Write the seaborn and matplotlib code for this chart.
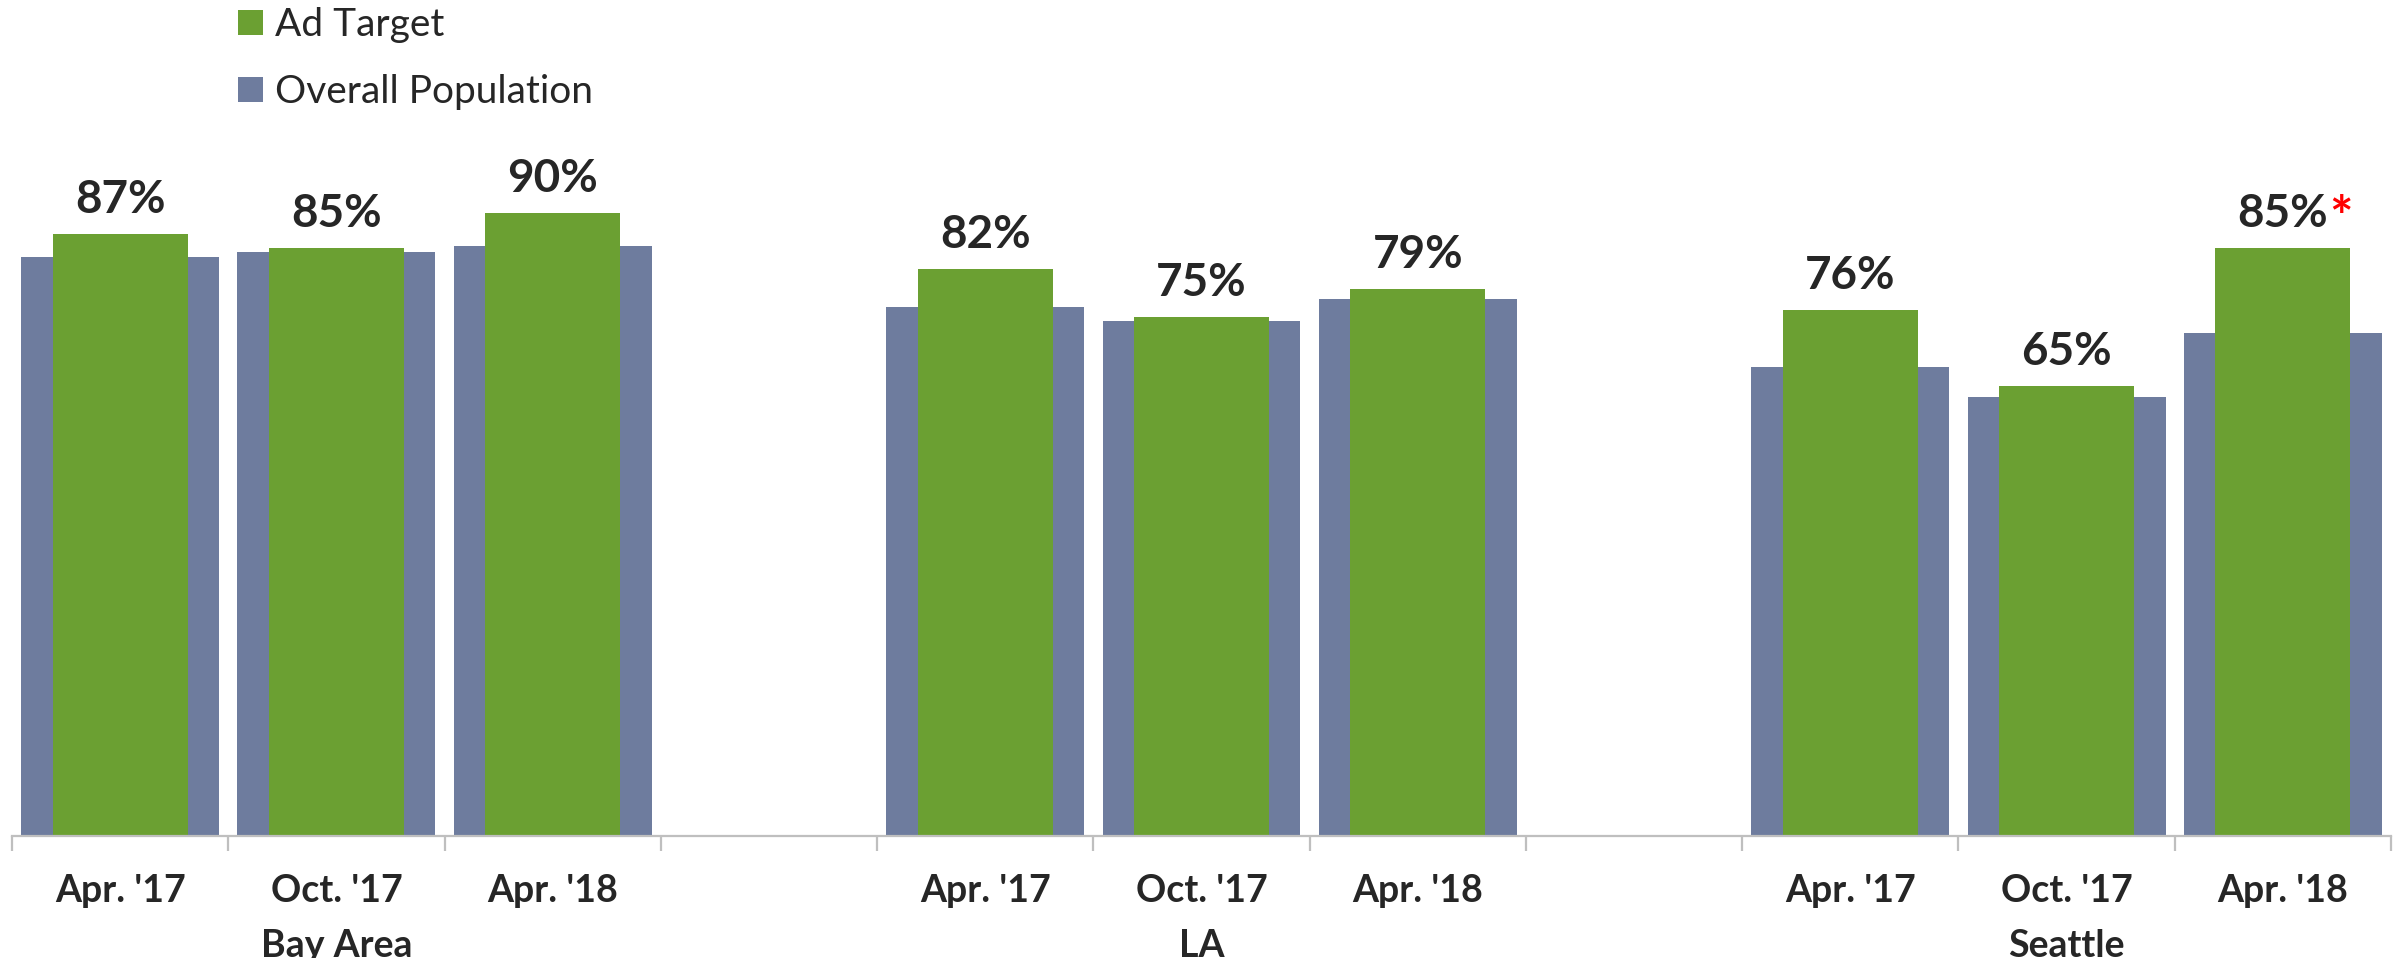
import matplotlib
matplotlib.use("Agg")
import matplotlib.pyplot as plt
import seaborn as sns
import pandas as pd
from matplotlib.patches import Patch

# ---- data ----
cities = ["Bay Area", "LA", "Seattle"]
periods = ["Apr. '17", "Oct. '17", "Apr. '18"]
ad_target = [87, 85, 90, 82, 75, 79, 76, 65, 85]
overall_population = [83.7, 84.4, 85.2, 76.4, 74.4, 77.6, 67.8, 63.5, 72.7]
starred = ["Seattle|Apr. '18"]

GREEN = "#6BA032"
BLUE = "#6E7C9E"
AXIS_GRAY = "#BFBFBF"

sns.set_theme(style="white")
plt.rcParams["font.family"] = ["Lato", "DejaVu Sans"]

keys, city_col, period_col = [], [], []
for c in cities:
    for p in periods:
        keys.append(f"{c}|{p}")
        city_col.append(c)
        period_col.append(p)
df = pd.DataFrame({"key": keys, "city": city_col, "period": period_col,
                   "ad": ad_target, "overall": overall_population})

# order with empty gap slots between the cities
order = []
for i, c in enumerate(cities):
    order += [f"{c}|{p}" for p in periods]
    if i < len(cities) - 1:
        order.append(f"gap{i}")

W, H, DPI = 2405, 958, 100
fig = plt.figure(figsize=(W / DPI, H / DPI), dpi=DPI)
ax = fig.add_axes([12 / W, 1 - 836 / H, (2391 - 12) / W, 692 / H])

sns.barplot(data=df, x="key", y="overall", order=order, color=BLUE,
            width=0.915, saturation=1, linewidth=0, ax=ax, errorbar=None)
sns.barplot(data=df, x="key", y="ad", order=order, color=GREEN,
            width=0.624, saturation=1, linewidth=0, ax=ax, errorbar=None)

ax.set_xlim(-0.5, len(order) - 0.5)
ax.set_ylim(0, 100)
ax.set_xlabel("")
ax.set_ylabel("")
ax.set_yticks([])

for s in ["top", "left", "right"]:
    ax.spines[s].set_visible(False)
ax.spines["bottom"].set_color(AXIS_GRAY)
ax.spines["bottom"].set_linewidth(1.6)

# slot boundary ticks
ax.set_xticks([i - 0.5 for i in range(len(order) + 1)])
ax.set_xticklabels([])
ax.tick_params(axis="x", which="major", length=11, width=1.6, color=AXIS_GRAY,
               direction="out", bottom=True)

# period labels at slot centres
centers = [order.index(k) for k in df["key"]]
ax.set_xticks(centers, minor=True)
ax.set_xticklabels(df["period"], minor=True)
ax.tick_params(axis="x", which="minor", length=0, pad=27, labelsize=27)
for lab in ax.get_xticklabels(minor=True):
    lab.set_fontweight("bold")

# city labels under middle period
for c in cities:
    pos = order.index(f"{c}|{periods[1]}")
    ax.annotate(c, xy=(pos, 0), xycoords=("data", "axes fraction"),
                xytext=(0, -87), textcoords="offset points",
                ha="center", va="baseline", fontsize=27, fontweight="bold")

# value labels
for _, row in df.iterrows():
    pos = order.index(row["key"])
    t = ax.annotate(f"{row['ad']:.0f}%", xy=(pos, row["ad"]),
                    xytext=(0, 15), textcoords="offset points",
                    ha="center", va="baseline", fontsize=33, fontweight="bold")
    if row["key"] in starred:
        ax.annotate("*", xy=(1, 0.95), xycoords=t, xytext=(1, 0),
                    textcoords="offset points", ha="left", va="top",
                    fontsize=40, fontweight="bold", color="#FF0000")

handles = [Patch(facecolor=GREEN, edgecolor="none", label="Ad Target"),
           Patch(facecolor=BLUE, edgecolor="none", label="Overall Population")]
fig.legend(handles=handles, loc="upper left", bbox_to_anchor=(238 / W, 1 - 7 / H),
           frameon=False, fontsize=28, handlelength=0.63, handleheight=0.63,
           handletextpad=0.32, labelspacing=0.8, borderaxespad=0, borderpad=0)

fig.savefig("out.png", dpi=DPI)
